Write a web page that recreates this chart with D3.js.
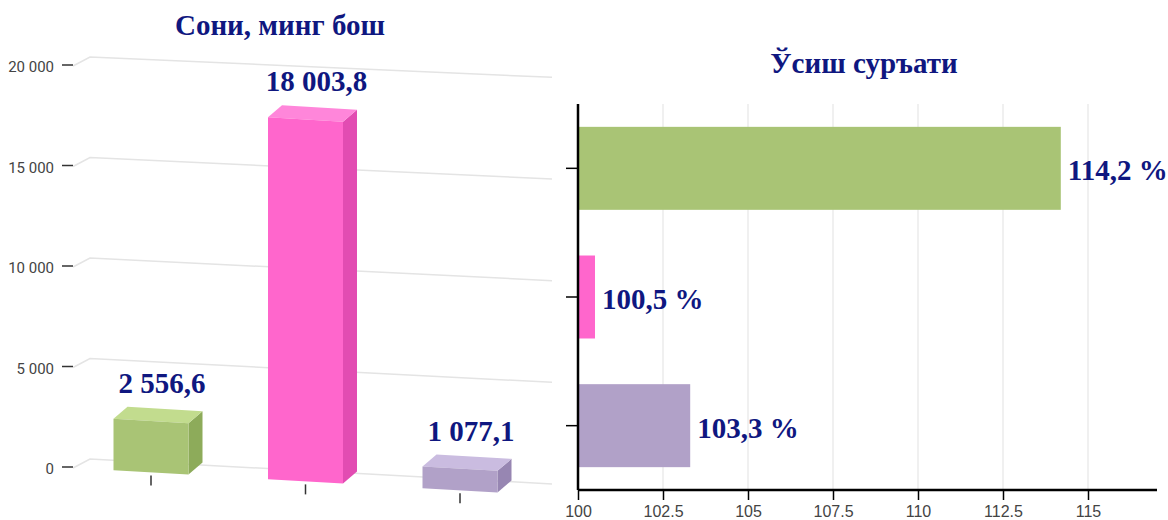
<!DOCTYPE html>
<html>
<head>
<meta charset="utf-8">
<script src="https://cdn.jsdelivr.net/npm/d3@7"></script>
<style>
  body { margin: 0; background: #fff; }
  svg { display: block; }
</style>
</head>
<body>
<div id="charts"></div>
<script>
var width = 1168,
    height = 520;

// data
var categories = ["a", "b", "c"];
var counts = [2556.6, 18003.8, 1077.1];
var countLabels = ["2 556,6", "18 003,8", "1 077,1"];
var growth = [114.2, 100.5, 103.3];
var growthLabels = ["114,2 %", "100,5 %", "103,3 %"];
var leftTicks = [0, 5000, 10000, 15000, 20000];
var rightTicks = [100, 102.5, 105, 107.5, 110, 112.5, 115];
var colors = [
  {front: "#a9c475", top: "#c2dc8e", side: "#8dab5a"},
  {front: "#ff66cc", top: "#ff86da", side: "#e24cb2"},
  {front: "#b1a1c8", top: "#cabce0", side: "#9786b2"}
];
var titleColor = "#0f1780";

var svg = d3.select("#charts").append("svg")
  .attr("width", width)
  .attr("height", height);

// ---------- left: pseudo 3d column chart ----------
var y = d3.scaleLinear().domain([0, 20000]).range([468, 66]);
var x = d3.scalePoint().domain(categories).range([151, 460]);
var barW = 75, depthX = 14, depthY = -12;
var floorSlope = 0.058;
function base(px) { return y(0) + floorSlope * (px - 92) + 1; }
function gridSlope(v) { return 0.054 - 0.01 * v / 20000; }

var left = svg.append("g");

left.append("text")
  .attr("x", 280).attr("y", 35)
  .attr("text-anchor", "middle")
  .style("font-family", "'Liberation Serif', 'Times New Roman', serif")
  .style("font-weight", "bold")
  .style("font-size", "29px")
  .style("fill", titleColor)
  .text("Сони, минг бош");

var grid = left.selectAll(".grid").data(leftTicks).enter().append("g");
grid.append("path")
  .attr("d", function(d) {
    var yt = y(d);
    return "M73," + yt + "L90," + (yt - 9) + "L552," + (yt - 9 + gridSlope(d) * 462);
  })
  .attr("fill", "none")
  .attr("stroke", "#e4e4e4")
  .attr("stroke-width", 1.5);
grid.append("line")
  .attr("x1", 62).attr("x2", 73)
  .attr("y1", function(d) { return y(d) - 1; })
  .attr("y2", function(d) { return y(d) - 1; })
  .attr("stroke", "#333").attr("stroke-width", 1.5);
grid.append("text")
  .attr("x", 54)
  .attr("y", function(d) { return y(d) + 6; })
  .attr("text-anchor", "end")
  .style("font-family", "Roboto, sans-serif")
  .style("font-size", "15px")
  .style("fill", "#444")
  .text(function(d) { return d3.format(",")(d).replace(/,/g, " "); });

var bars = left.selectAll(".bar").data(counts).enter().append("g");

bars.each(function(d, i) {
  var g = d3.select(this);
  var cx = x(categories[i]);
  var x0 = cx - barW / 2, x1 = cx + barW / 2;
  var h = y(0) - y(d);
  var b0 = base(x0), b1 = base(x1);
  var t0 = b0 - h, t1 = b1 - h;
  var c = colors[i];

  // tick under the bar
  g.append("line")
    .attr("x1", cx).attr("x2", cx)
    .attr("y1", base(cx) + 3).attr("y2", base(cx) + 13)
    .attr("stroke", "#333").attr("stroke-width", 1.5);

  g.append("path")
    .attr("d", "M" + x1 + "," + t1 + "L" + (x1 + depthX) + "," + (t1 + depthY) +
      "L" + (x1 + depthX) + "," + (b1 + depthY) + "L" + x1 + "," + b1 + "Z")
    .attr("fill", c.side);
  g.append("path")
    .attr("d", "M" + x0 + "," + t0 + "L" + (x0 + depthX) + "," + (t0 + depthY) +
      "L" + (x1 + depthX) + "," + (t1 + depthY) + "L" + x1 + "," + t1 + "Z")
    .attr("fill", c.top);
  g.append("path")
    .attr("d", "M" + x0 + "," + t0 + "L" + x1 + "," + t1 +
      "L" + x1 + "," + b1 + "L" + x0 + "," + b0 + "Z")
    .attr("fill", c.front);

  g.append("text")
    .attr("x", cx + 11)
    .attr("y", t0 + depthY - 14)
    .attr("text-anchor", "middle")
    .style("font-family", "'Liberation Serif', 'Times New Roman', serif")
    .style("font-weight", "bold")
    .style("font-size", "29px")
    .style("fill", titleColor)
    .text(countLabels[i]);
});

// ---------- right: horizontal bar chart ----------
var xr = d3.scaleLinear().domain([100, 117]).range([578, 1156]);
var yr = d3.scaleBand().domain(categories).range([104, 490])
  .paddingInner(0.355).paddingOuter(0.1775);

var right = svg.append("g");

right.append("text")
  .attr("x", 864).attr("y", 73)
  .attr("text-anchor", "middle")
  .style("font-family", "'Liberation Serif', 'Times New Roman', serif")
  .style("font-weight", "bold")
  .style("font-size", "29px")
  .style("fill", titleColor)
  .text("Ўсиш суръати");

right.selectAll(".vgrid").data(rightTicks.slice(1)).enter().append("line")
  .attr("x1", function(d) { return xr(d); })
  .attr("x2", function(d) { return xr(d); })
  .attr("y1", 104).attr("y2", 490)
  .attr("stroke", "#e6e6e6").attr("stroke-width", 1.2);

right.selectAll(".hbar").data(growth).enter().append("rect")
  .attr("x", xr(100))
  .attr("y", function(d, i) { return yr(categories[i]); })
  .attr("width", function(d) { return xr(d) - xr(100); })
  .attr("height", yr.bandwidth())
  .attr("fill", function(d, i) { return colors[i].front; });

right.selectAll(".hlabel").data(growth).enter().append("text")
  .attr("x", function(d) { return xr(d) + 7; })
  .attr("y", function(d, i) { return yr(categories[i]) + yr.bandwidth() / 2 + 12; })
  .style("font-family", "'Liberation Serif', 'Times New Roman', serif")
  .style("font-weight", "bold")
  .style("font-size", "29px")
  .style("fill", titleColor)
  .text(function(d, i) { return growthLabels[i]; });

var xAxis = right.append("g")
  .attr("transform", "translate(0,490)")
  .call(d3.axisBottom(xr).tickValues(rightTicks).tickSize(10).tickPadding(6)
    .tickFormat(function(d) { return String(d); }));
xAxis.select(".domain").attr("stroke", "#000").attr("stroke-width", 2.5)
  .attr("d", "M578,0H1157");
xAxis.selectAll(".tick line").attr("stroke", "#000").attr("stroke-width", 1.5);
xAxis.selectAll(".tick text")
  .style("font-family", "'Liberation Sans', Arial, sans-serif")
  .style("font-size", "16px")
  .style("fill", "#444");

var yAxis = right.append("g")
  .attr("transform", "translate(578,0)")
  .call(d3.axisLeft(yr).tickSize(12).tickFormat(""));
yAxis.select(".domain").attr("stroke", "#000").attr("stroke-width", 2.5)
  .attr("d", "M0,104V490");
yAxis.selectAll(".tick line").attr("stroke", "#000").attr("stroke-width", 1.5);
</script>
</body>
</html>
